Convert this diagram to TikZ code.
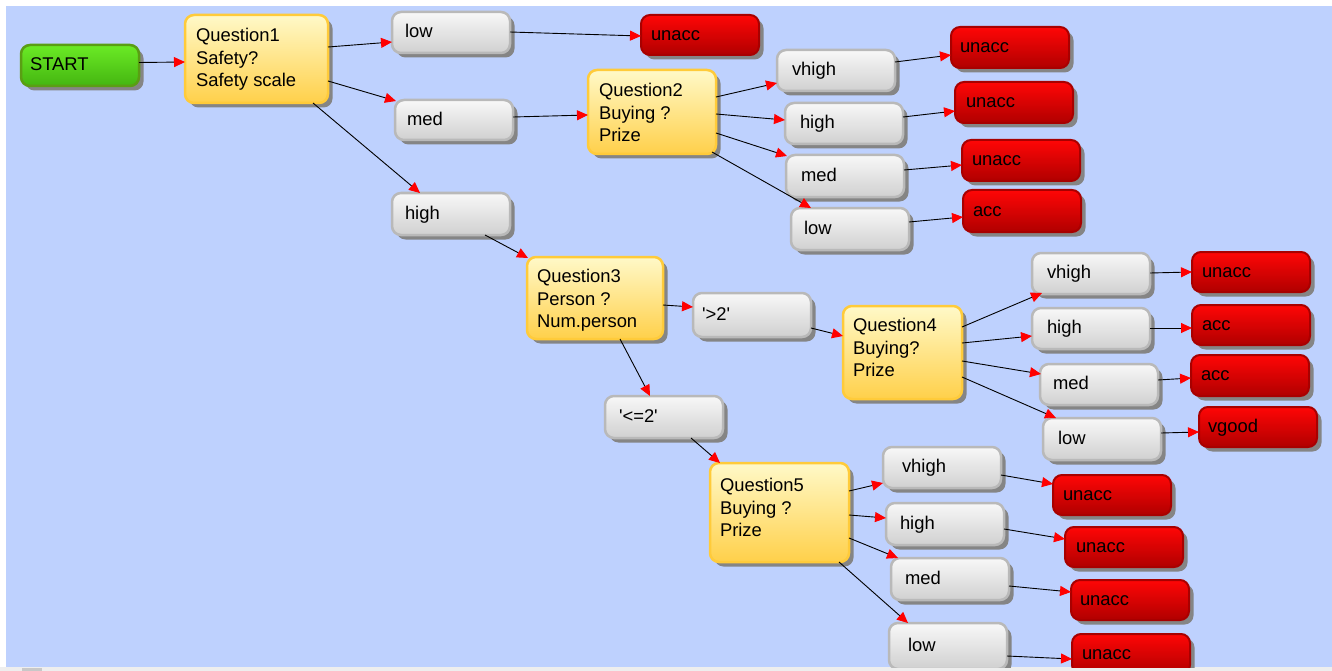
\documentclass[tikz,border=0pt]{standalone}
\usepackage{fontspec}
\setmainfont{Liberation Sans}
\usetikzlibrary{arrows.meta,shadows}
\definecolor{bgblue}{HTML}{BED1FE}
\definecolor{gbord}{HTML}{B9B9B9}
\definecolor{gtop}{HTML}{F8F8F8}
\definecolor{gbot}{HTML}{D0D0D0}
\definecolor{rbord}{HTML}{A80000}
\definecolor{rtop}{HTML}{FF0606}
\definecolor{rbot}{HTML}{B00000}
\definecolor{ybord}{HTML}{FFCB3A}
\definecolor{ytop}{HTML}{FFF9C8}
\definecolor{ybot}{HTML}{FFD04A}
\definecolor{grbord}{HTML}{5A9E14}
\definecolor{grtop}{HTML}{6BEB25}
\definecolor{grbot}{HTML}{44B511}
\definecolor{stripgray}{HTML}{EEEEEE}
\definecolor{tabgray}{HTML}{C8C8C8}
\newcommand\qt[3]{\parbox[c][#2pt][t]{#1pt}{\raggedright #3}}
\begin{document}
\begin{tikzpicture}[x=1pt,y=-1pt,
  base/.style={rounded corners=9pt, anchor=north west, outer sep=0pt, inner sep=0pt,
    font=\fontsize{18.4}{22.8}\selectfont, text=black,
    drop shadow={shadow xshift=4.5pt, shadow yshift=-4.5pt, fill=black!48, opacity=1}},
  leaf/.style={base, minimum width=118pt, minimum height=41pt, text width=118pt, align=left,
    text height=13.3pt, text depth=2.5pt, execute at begin node={\hspace*{#1pt}}},
  gnode/.style={leaf=#1, draw=gbord, line width=2.5pt, top color=gtop, bottom color=gbot},
  rnode/.style={leaf=#1, draw=rbord, line width=2pt, top color=rtop, bottom color=rbot, minimum height=40pt},
  snode/.style={leaf=9, draw=grbord, line width=2.5pt, top color=grtop, bottom color=grbot},
  qnode/.style={base, draw=ybord, line width=2.5pt, top color=ytop, bottom color=ybot},
  conn/.style={draw=black, line width=0.9pt, -{Triangle[length=11pt,width=10pt,color=red]}}
]
\useasboundingbox (0,0) rectangle (1332,671);
\fill[white] (0,0) rectangle (1332,671);
\fill[bgblue] (6,6) rectangle (1332,667);
\fill[stripgray] (0,667) rectangle (1332,671);
\fill[tabgray] (22,668) rectangle (42,671);
\begin{scope}
\clip (6,6) rectangle (1332,667);
% nodes
\node[snode] (start) at (21,45) {START};
\node[qnode, minimum width=143pt, minimum height=88pt] (q1) at (185,15) {\qt{121}{62}{Question1\\Safety?\\Safety scale}};
\node[gnode=13] (low1) at (392,12) {low};
\node[rnode=10] (un1) at (641,15) {unacc};
\node[gnode=12, minimum height=40pt] (med1) at (395,100) {med};
\node[qnode, minimum width=128pt, minimum height=84pt] (q2) at (588,70) {\qt{106}{58}{Question2\\Buying ?\\Prize}};
\node[gnode=15] (vh2) at (777,50) {vhigh};
\node[rnode=9, minimum height=41pt] (un2a) at (951,27) {unacc};
\node[gnode=15] (hi2) at (785,103) {high};
\node[rnode=11, minimum height=41pt] (un2b) at (955,82) {unacc};
\node[gnode=15, minimum height=42pt] (me2) at (786,155) {med};
\node[rnode=10, minimum height=41pt] (un2c) at (962,140) {unacc};
\node[gnode=13, minimum height=42pt] (lo2) at (791,208) {low};
\node[rnode=10, minimum height=42pt] (ac2) at (963,190) {acc};
\node[gnode=13, minimum height=42pt] (high1) at (392,193) {high};
\node[qnode, minimum width=136pt, minimum height=82pt] (q3) at (527,257) {\qt{116}{58}{Question3\\Person ?\\Num.person}};
\node[gnode=9, minimum height=44pt] (gt2) at (693,293) {\textquotesingle>2\textquotesingle};
\node[gnode=14, minimum height=42pt] (le2) at (605,396) {\textquotesingle<=2\textquotesingle};
\node[qnode, minimum width=119pt, minimum height=93pt] (q4) at (843,306) {\qt{99}{69}{Question4\\Buying?\\Prize}};
\node[gnode=15] (vh4) at (1032,253) {vhigh};
\node[rnode=10] (un4) at (1192,252) {unacc};
\node[gnode=15] (hi4) at (1032,308) {high};
\node[rnode=10] (ac4a) at (1192,305) {acc};
\node[gnode=13] (me4) at (1040,364) {med};
\node[rnode=10, minimum height=41pt] (ac4b) at (1191,355) {acc};
\node[gnode=15, minimum height=42pt] (lo4) at (1043,418) {low};
\node[rnode=9] (vg4) at (1199,407) {vgood};
\node[qnode, minimum width=139pt, minimum height=99pt] (q5) at (710,463) {\qt{119}{69}{Question5\\Buying ?\\Prize}};
\node[gnode=19] (vh5) at (883,447) {vhigh};
\node[rnode=10] (un5a) at (1053,475) {unacc};
\node[gnode=14, minimum height=42pt] (hi5) at (886,503) {high};
\node[rnode=11] (un5b) at (1065,527) {unacc};
\node[gnode=14, minimum height=42pt] (me5) at (891,558) {med};
\node[rnode=9] (un5c) at (1071,580) {unacc};
\node[gnode=19, minimum height=46pt] (lo5) at (889,623) {low};
\node[rnode=10] (un5d) at (1072,634) {unacc};
% connectors
\draw[conn] ([shift={(0,-3)}]start.east) -- ([shift={(0,47)}]q1.north west);
\draw[conn] ([shift={(0,32)}]q1.north east) -- ([shift={(0,30)}]low1.north west);
\draw[conn] ([shift={(0,66)}]q1.north east) -- ([shift={(1,1)}]med1.north west);
\draw[conn] ([shift={(-15,0)}]q1.south east) -- ([shift={(28,0)}]high1.north west);
\draw[conn] ([shift={(0,20)}]low1.north east) -- ([shift={(0,21)}]un1.north west);
\draw[conn] ([shift={(0,17)}]med1.north east) -- ([shift={(0,45)}]q2.north west);
\draw[conn] ([shift={(0,27)}]q2.north east) -- ([shift={(0,33)}]vh2.north west);
\draw[conn] ([shift={(0,44)}]q2.north east) -- ([shift={(0,17)}]hi2.north west);
\draw[conn] ([shift={(0,63)}]q2.north east) -- ([shift={(1,1)}]me2.north west);
\draw[conn] ([shift={(-4,-2)}]q2.south east) -- ([shift={(20,0)}]lo2.north west);
\draw[conn] ([shift={(0,12)}]vh2.north east) -- ([shift={(0,28)}]un2a.north west);
\draw[conn] ([shift={(0,14)}]hi2.north east) -- ([shift={(0,29)}]un2b.north west);
\draw[conn] ([shift={(0,15)}]me2.north east) -- ([shift={(0,25)}]un2c.north west);
\draw[conn] ([shift={(0,14)}]lo2.north east) -- ([shift={(0,27)}]ac2.north west);
\draw[conn] ([shift={(93,0)}]high1.south west) -- ([shift={(1,1)}]q3.north west);
\draw[conn] ([shift={(0,48)}]q3.north east) -- ([shift={(0,14)}]gt2.north west);
\draw[conn] ([shift={(93,0)}]q3.south west) -- ([shift={(45,0)}]le2.north west);
\draw[conn] ([shift={(0,35)}]gt2.north east) -- ([shift={(0,30)}]q4.north west);
\draw[conn] ([shift={(86,0)}]le2.south west) -- ([shift={(10,0)}]q5.north west);
\draw[conn] ([shift={(0,21)}]q4.north east) -- ([shift={(10,40)}]vh4.north west);
\draw[conn] ([shift={(0,37)}]q4.north east) -- ([shift={(0,28)}]hi4.north west);
\draw[conn] ([shift={(0,55)}]q4.north east) -- ([shift={(1,10)}]me4.north west);
\draw[conn] ([shift={(0,71)}]q4.north east) -- ([shift={(13,0)}]lo4.north west);
\draw[conn] ([shift={(0,20)}]vh4.north east) -- ([shift={(0,20)}]un4.north west);
\draw[conn] ([shift={(0,20)}]hi4.north east) -- ([shift={(0,23)}]ac4a.north west);
\draw[conn] ([shift={(0,16)}]me4.north east) -- ([shift={(0,23)}]ac4b.north west);
\draw[conn] ([shift={(0,15)}]lo4.north east) -- ([shift={(0,25)}]vg4.north west);
\draw[conn] ([shift={(0,28)}]q5.north east) -- ([shift={(0,36)}]vh5.north west);
\draw[conn] ([shift={(0,52)}]q5.north east) -- ([shift={(0,15)}]hi5.north west);
\draw[conn] ([shift={(0,75)}]q5.north east) -- ([shift={(7,0)}]me5.north west);
\draw[conn] ([shift={(-10,0)}]q5.south east) -- ([shift={(19,0)}]lo5.north west);
\draw[conn] ([shift={(0,28)}]vh5.north east) -- ([shift={(0,9)}]un5a.north west);
\draw[conn] ([shift={(0,26)}]hi5.north east) -- ([shift={(0,12)}]un5b.north west);
\draw[conn] ([shift={(0,28)}]me5.north east) -- ([shift={(0,12)}]un5c.north west);
\draw[conn] ([shift={(0,33)}]lo5.north east) -- ([shift={(0,25)}]un5d.north west);
\end{scope}
\end{tikzpicture}
\end{document}
